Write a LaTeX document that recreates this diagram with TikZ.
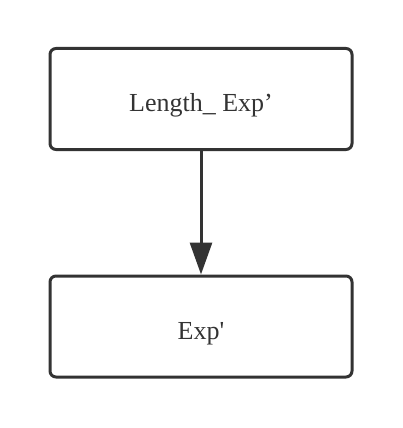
\documentclass[tikz,border=0pt]{standalone}
\usepackage{fontspec}
\newfontfamily\rawfont{Liberation Serif}
\usetikzlibrary{arrows.meta}
\definecolor{ink}{HTML}{333333}
\tikzset{
  box/.style={draw=ink, line width=3pt, rounded corners=6pt, minimum width=302pt, minimum height=101pt, inner sep=0pt, text height=25.6pt, text depth=0pt, text=ink, font=\rawfont\fontsize{26}{30}\selectfont},
  conn/.style={draw=ink, line width=3pt, -{Triangle[length=32pt,width=22pt]}}
}
\begin{document}
\begin{tikzpicture}[x=1pt,y=1pt]
\useasboundingbox (0,0) rectangle (402,-428);
\node[box] (a) at (201,-99) {Length\_ Exp’};
\node[box] (b) at (201,-326.5) {Exp'};
\draw[conn] (a.south) -- (b.north);
\end{tikzpicture}
\end{document}
